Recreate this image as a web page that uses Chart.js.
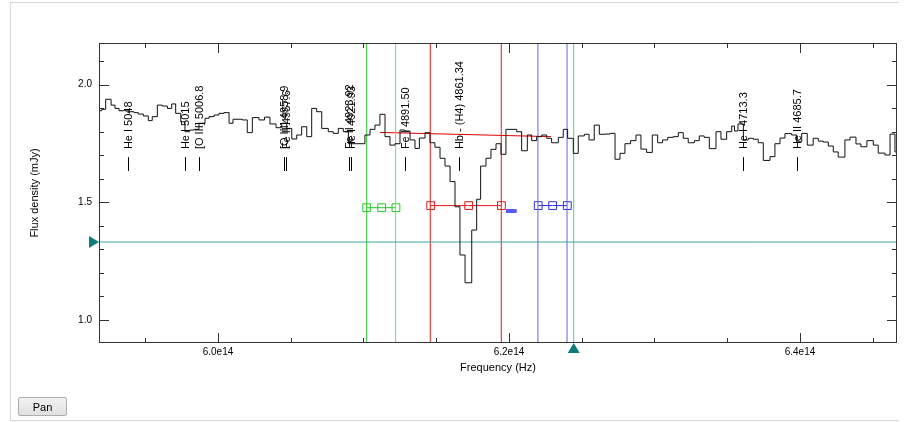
<!DOCTYPE html>
<html>
<head>
<meta charset="utf-8">
<script src="https://cdn.jsdelivr.net/npm/chart.js@4.4.0/dist/chart.umd.min.js"></script>
<style>
  body { margin: 0; background: #fff; font-family: "Liberation Sans", Arial, sans-serif; }
  #wrap { position: relative; width: 907px; height: 422px; overflow: hidden; }
  #frame { position: absolute; left: 10px; top: 2px; width: 888px; height: 417px;
           border-left: 1px solid #d8d8d8; border-top: 1px solid #d8d8d8; border-bottom: 1px solid #d8d8d8; }
  #chart { position: absolute; left: 0; top: 0; }
  #pan { position: absolute; left: 18px; top: 397px; width: 49px; height: 19px; padding: 0;
         font: 11px "Liberation Sans", Arial, sans-serif; color: #000;
         border: 1px solid #adadad; border-radius: 2px;
         background: linear-gradient(#f2f2f2, #e0e0e0); }
</style>
</head>
<body>
<div id="wrap">
  <div id="frame"></div>
  <canvas id="chart" width="907" height="422"></canvas>
  <button id="pan">Pan</button>
</div>
<script>
// frequency in units of 1e14 Hz, flux density in mJy
const specFreq = [
  5.9182, 5.9201, 5.9228, 5.9265, 5.9292, 5.9320, 5.9354, 5.9384, 5.9423, 5.9452,
  5.9487, 5.9521, 5.9548, 5.9583, 5.9617, 5.9652, 5.9682, 5.9709, 5.9744, 5.9773,
  5.9805, 5.9835, 5.9869, 5.9911, 5.9938, 5.9973, 6.0007, 6.0041, 6.0076, 6.0103,
  6.0167, 6.0201, 6.0236, 6.0282, 6.0320, 6.0357, 6.0399, 6.0438, 6.0472, 6.0507,
  6.0541, 6.0575, 6.0610, 6.0644, 6.0678, 6.0713, 6.0758, 6.0792, 6.0827, 6.0861,
  6.0896, 6.1010, 6.1045, 6.1079, 6.1113, 6.1148, 6.1182, 6.1216, 6.1251, 6.1285,
  6.1320, 6.1354, 6.1384, 6.1423, 6.1457, 6.1491, 6.1526, 6.1560, 6.1595, 6.1629,
  6.1663, 6.1698, 6.1744, 6.1778, 6.1805, 6.1842, 6.1876, 6.1911, 6.1945, 6.1979,
  6.2053, 6.2087, 6.2126, 6.2156, 6.2190, 6.2225, 6.2259, 6.2293, 6.2339, 6.2373,
  6.2403, 6.2442, 6.2476, 6.2518, 6.2550, 6.2586, 6.2621, 6.2660, 6.2694, 6.2729,
  6.2763, 6.2797, 6.2836, 6.2873, 6.2907, 6.2946, 6.2985, 6.3022, 6.3056, 6.3091,
  6.3129, 6.3164, 6.3198, 6.3232, 6.3274, 6.3308, 6.3342, 6.3377, 6.3423, 6.3457,
  6.3496, 6.3531, 6.3550, 6.3574, 6.3611, 6.3645, 6.3679, 6.3713, 6.3748, 6.3794,
  6.3828, 6.3863, 6.3897, 6.3943, 6.3977, 6.4012, 6.4050, 6.4091, 6.4126, 6.4160,
  6.4195, 6.4229, 6.4263, 6.4309, 6.4344, 6.4385, 6.4419, 6.4460, 6.4504, 6.4538,
  6.4584, 6.4619, 6.4653, 6.4667
];
const specFlux = [
  1.889, 1.895, 1.938, 1.913, 1.899, 1.889, 1.892, 1.885, 1.881, 1.875,
  1.867, 1.847, 1.864, 1.913, 1.909, 1.899, 1.918, 1.878, 1.842, 1.800,
  1.807, 1.810, 1.836, 1.857, 1.864, 1.871, 1.878, 1.881, 1.836, 1.853,
  1.850, 1.796, 1.860, 1.850, 1.862, 1.833, 1.817, 1.836, 1.814, 1.769,
  1.786, 1.821, 1.779, 1.899, 1.885, 1.814, 1.800, 1.793, 1.814, 1.800,
  1.749, 1.786, 1.810, 1.828, 1.874, 1.779, 1.743, 1.749, 1.807, 1.803,
  1.765, 1.729, 1.773, 1.796, 1.753, 1.734, 1.687, 1.654, 1.588, 1.481,
  1.276, 1.158, 1.382, 1.513, 1.654, 1.687, 1.725, 1.749, 1.704, 1.810,
  1.800, 1.719, 1.786, 1.762, 1.779, 1.786, 1.772, 1.753, 1.776, 1.810,
  1.772, 1.708, 1.782, 1.789, 1.765, 1.828, 1.789, 1.790, 1.793, 1.683,
  1.708, 1.749, 1.762, 1.786, 1.726, 1.712, 1.786, 1.753, 1.765, 1.776,
  1.779, 1.796, 1.772, 1.753, 1.762, 1.782, 1.776, 1.728, 1.800, 1.768,
  1.800, 1.824, 1.803, 1.833, 1.765, 1.772, 1.768, 1.753, 1.678, 1.694,
  1.749, 1.773, 1.792, 1.786, 1.757, 1.793, 1.743, 1.772, 1.760, 1.756,
  1.739, 1.714, 1.692, 1.765, 1.777, 1.748, 1.736, 1.762, 1.743, 1.709,
  1.701, 1.790, 1.714, 1.714
];

// identified lines
const lineNames = ["He I 5048", "He I 5015", "[O III] 5006.8", "[O III] 4958.9", "Fe II 4957.6",
  "Fe II 4923.92", "He I 4921.93", "Fe I 4891.50", "Hb - (H4) 4861.34", "He I 4713.3", "He II 4685.7"];
const lineFreq = [5.9384, 5.9773, 5.9871, 6.0452, 6.0465, 6.0900, 6.0914, 6.1285, 6.1658, 6.3610, 6.3981];

// markers
const greenLines = [6.1022, 6.1221];
const redLines = [6.1459, 6.1947];
const blueLines = [6.2199, 6.2399];
const cursorFreq = 6.2445;
const cursorFlux = 1.331;
const contFreq = [6.1113, 6.2289];
const contFlux = [1.797, 1.779];
const greenBoxFreq = [6.1022, 6.1125, 6.1223];
const redBoxFreq = [6.1462, 6.1723, 6.1948];
const blueBoxFreq = [6.2201, 6.2300, 6.2401];
const greenBoxFlux = 1.477;
const redBoxFlux = 1.486;
const blueBoxFlux = 1.486;
const blueBarFreq = [6.1979, 6.2053];
const blueBarFlux = 1.463;

// axes
const xMin = 5.9182, xMax = 6.4667;
const yMin = 0.902, yMax = 2.177;
const xMajor = [6.0, 6.2, 6.4];
const xTicks = [5.95, 6.0, 6.05, 6.1, 6.15, 6.2, 6.25, 6.3, 6.35, 6.4, 6.45];
const yMajor = [1.0, 1.5, 2.0];
const yTicks = [1.0, 1.1, 1.2, 1.3, 1.4, 1.5, 1.6, 1.7, 1.8, 1.9, 2.0, 2.1];

const labelBase = 1.726, labelTickTop = 1.692, labelTickBottom = 1.633;

const FONT = '"Liberation Sans", Arial, sans-serif';

function vline(f, color) {
  return { data: [{ x: f, y: yMin }, { x: f, y: yMax }], borderColor: color, borderWidth: 1, pointRadius: 0 };
}
function boxes(freqs, flux, color) {
  return { data: freqs.map(f => ({ x: f, y: flux })), borderColor: color, borderWidth: 1,
    pointStyle: 'rect', pointRadius: 5.5, pointBorderWidth: 1, pointBackgroundColor: 'rgba(0,0,0,0)', pointBorderColor: color };
}

const frameTicks = {
  id: 'frameTicks',
  afterDatasetsDraw(chart) {
    const { ctx, chartArea: a, scales: { x, y } } = chart;
    ctx.save();
    ctx.strokeStyle = '#333';
    ctx.lineWidth = 1;
    ctx.strokeRect(a.left + 0.5, a.top + 0.5, a.right - a.left - 1, a.bottom - a.top - 1);
    ctx.beginPath();
    xTicks.forEach(v => {
      const px = Math.round(x.getPixelForValue(v)) + 0.5;
      const len = xMajor.some(m => Math.abs(m - v) < 1e-6) ? 10 : 5;
      ctx.moveTo(px, a.bottom); ctx.lineTo(px, a.bottom - len);
      ctx.moveTo(px, a.top); ctx.lineTo(px, a.top + len);
    });
    yTicks.forEach(v => {
      const py = Math.round(y.getPixelForValue(v)) + 0.5;
      const len = yMajor.some(m => Math.abs(m - v) < 1e-6) ? 10 : 5;
      ctx.moveTo(a.left, py); ctx.lineTo(a.left + len, py);
      ctx.moveTo(a.right, py); ctx.lineTo(a.right - len, py);
    });
    ctx.stroke();

    // cursor triangles
    ctx.fillStyle = '#0e7a7a';
    const ty = y.getPixelForValue(cursorFlux);
    ctx.beginPath();
    ctx.moveTo(a.left, ty); ctx.lineTo(a.left - 10, ty - 6); ctx.lineTo(a.left - 10, ty + 6);
    ctx.closePath(); ctx.fill();
    const tx = x.getPixelForValue(cursorFreq);
    ctx.beginPath();
    ctx.moveTo(tx, a.bottom); ctx.lineTo(tx - 6, a.bottom + 10); ctx.lineTo(tx + 6, a.bottom + 10);
    ctx.closePath(); ctx.fill();
    ctx.restore();
  }
};

const lineLabels = {
  id: 'lineLabels',
  afterDatasetsDraw(chart) {
    const { ctx, scales: { x, y } } = chart;
    ctx.save();
    ctx.font = '11px ' + FONT;
    ctx.fillStyle = '#000';
    ctx.strokeStyle = '#000';
    ctx.lineWidth = 1;
    lineNames.forEach((name, i) => {
      const px = Math.round(x.getPixelForValue(lineFreq[i])) + 0.5;
      ctx.beginPath();
      ctx.moveTo(px, y.getPixelForValue(labelTickTop));
      ctx.lineTo(px, y.getPixelForValue(labelTickBottom));
      ctx.stroke();
      ctx.save();
      ctx.translate(px, y.getPixelForValue(labelBase));
      ctx.rotate(-Math.PI / 2);
      ctx.textAlign = 'left';
      ctx.textBaseline = 'middle';
      ctx.fillText(name, 0, 0);
      ctx.restore();
    });
    ctx.restore();
  }
};

new Chart(document.getElementById('chart'), {
  type: 'line',
  data: {
    datasets: [
      { data: specFreq.map((f, i) => ({ x: f, y: specFlux[i] })), stepped: true,
        borderColor: '#111', borderWidth: 1, pointRadius: 0 },
      { data: [{ x: xMin, y: cursorFlux }, { x: xMax, y: cursorFlux }], borderColor: '#3aa5a5', borderWidth: 1, pointRadius: 0 },
      vline(greenLines[0], '#2bcc2b'),
      vline(greenLines[1], '#74dc74'),
      vline(redLines[0], '#e01a1a'),
      vline(redLines[1], '#e01a1a'),
      vline(blueLines[0], '#6262e6'),
      vline(blueLines[1], '#6262e6'),
      vline(cursorFreq, '#62bcbc'),
      { data: contFreq.map((f, i) => ({ x: f, y: contFlux[i] })), borderColor: '#e00000', borderWidth: 1, pointRadius: 0 },
      boxes(greenBoxFreq, greenBoxFlux, '#22c622'),
      boxes(redBoxFreq, redBoxFlux, '#e01a1a'),
      boxes(blueBoxFreq, blueBoxFlux, '#3030e0'),
      { data: blueBarFreq.map(f => ({ x: f, y: blueBarFlux })), borderColor: '#5a5aff', borderWidth: 4, pointRadius: 0, borderCapStyle: 'butt' },
      { data: blueBarFreq.map(f => ({ x: f, y: blueBarFlux })), borderColor: '#c8c8ff', borderWidth: 1.5, pointRadius: 0, borderCapStyle: 'butt' }
    ]
  },
  options: {
    responsive: false,
    animation: false,
    events: [],
    layout: { padding: { left: 24, top: 43, right: 10, bottom: 43 } },
    plugins: { legend: { display: false }, tooltip: { enabled: false } },
    scales: {
      x: {
        type: 'linear', min: xMin, max: xMax,
        afterBuildTicks: s => { s.ticks = xMajor.map(v => ({ value: v })); },
        afterFit: s => { s.height = 36; },
        grid: { display: false, drawTicks: false },
        border: { display: false },
        ticks: { padding: 3, color: '#000', font: { size: 10, family: FONT },
                 callback: v => v.toFixed(1) + 'e14', maxRotation: 0, autoSkip: false },
        title: { display: true, text: 'Frequency (Hz)', color: '#000', font: { size: 11, family: FONT }, padding: { top: 4, bottom: 4 } }
      },
      y: {
        type: 'linear', min: yMin, max: yMax,
        afterBuildTicks: s => { s.ticks = yMajor.map(v => ({ value: v })); },
        afterFit: s => { s.width = 75; },
        grid: { display: false, drawTicks: false },
        border: { display: false },
        ticks: { padding: 7, color: '#000', font: { size: 10, family: FONT },
                 callback: v => v.toFixed(1), autoSkip: false },
        title: { display: true, text: 'Flux density (mJy)', color: '#000', font: { size: 11, family: FONT }, padding: { top: 4, bottom: 4 } }
      }
    }
  },
  plugins: [frameTicks, lineLabels]
});
</script>
</body>
</html>
